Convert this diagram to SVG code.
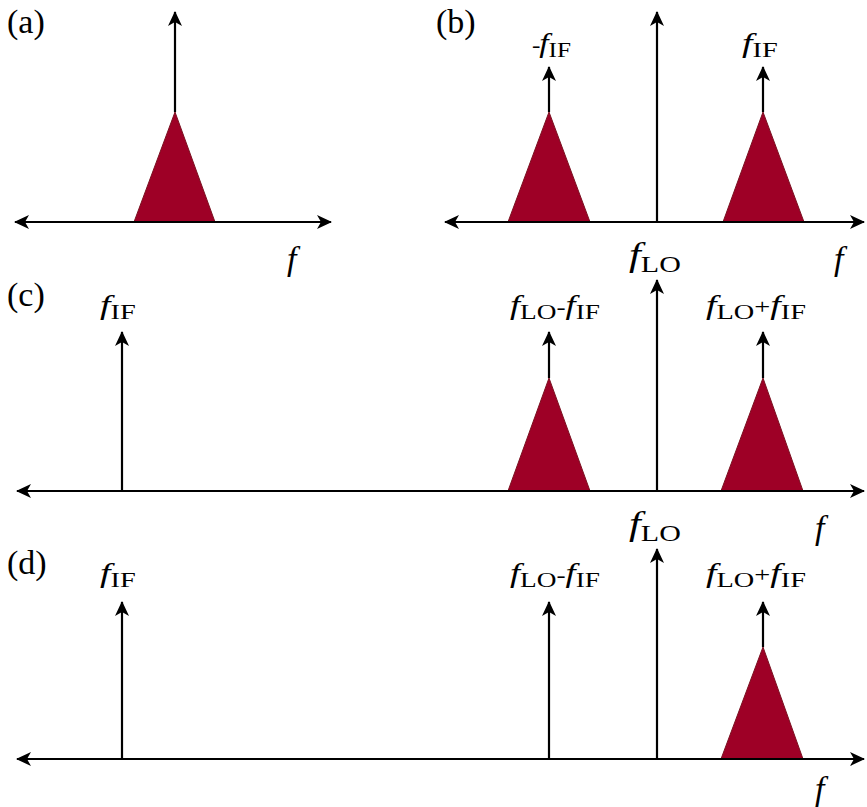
<svg xmlns="http://www.w3.org/2000/svg" width="867" height="807" viewBox="0 0 867 807">
<style>
.ax{stroke:#000;stroke-width:2.2;fill:none}
.tri{fill:#9e0026;stroke:#7a1020;stroke-width:1}
.pl{font-family:"Liberation Serif","Times New Roman",serif;font-size:34px;fill:#000}
.lb{font-family:"Liberation Serif","Times New Roman",serif;font-size:21px;fill:#000}
.lb .i{font-style:italic;font-size:28px}
.big{font-family:"Liberation Serif","Times New Roman",serif;font-size:24px;fill:#000}
.big .i{font-style:italic;font-size:34px}
.fx{font-family:"Liberation Serif","Times New Roman",serif;font-style:italic;font-size:34px;fill:#000}
</style>
<defs>
<marker id="ah" viewBox="-16 -8 18 16" markerWidth="18" markerHeight="16" refX="0" refY="0" orient="auto-start-reverse" markerUnits="userSpaceOnUse">
<path d="M1,0 L-14,-7 L-10,0 L-14,7 Z" fill="#000"/>
</marker>
</defs>
<rect width="867" height="807" fill="#fff"/>

<g id="spectra">
<polygon class="tri" points="134,222 175,112 215,222"/>
<polygon class="tri" points="508,222 549,112 590,222"/>
<polygon class="tri" points="723,222 763,112 804,222"/>
<polygon class="tri" points="508,491 549,378 590,491"/>
<polygon class="tri" points="721,491 763,378 803,491"/>
<polygon class="tri" points="721,759 763,647 803,759"/>
</g>

<g id="connectors">
<line class="ax" x1="15" y1="222" x2="331" y2="222" marker-start="url(#ah)" marker-end="url(#ah)"/>
<line class="ax" x1="175" y1="112" x2="175" y2="12" marker-end="url(#ah)"/>
<line class="ax" x1="445" y1="222" x2="864" y2="222" marker-start="url(#ah)" marker-end="url(#ah)"/>
<line class="ax" x1="657" y1="222" x2="657" y2="12" marker-end="url(#ah)"/>
<line class="ax" x1="549" y1="112" x2="549" y2="67" marker-end="url(#ah)"/>
<line class="ax" x1="763" y1="112" x2="763" y2="67" marker-end="url(#ah)"/>

<line class="ax" x1="17" y1="491" x2="864" y2="491" marker-start="url(#ah)" marker-end="url(#ah)"/>
<line class="ax" x1="122" y1="491" x2="122" y2="332" marker-end="url(#ah)"/>
<line class="ax" x1="657" y1="491" x2="657" y2="280" marker-end="url(#ah)"/>
<line class="ax" x1="549" y1="378" x2="549" y2="332" marker-end="url(#ah)"/>
<line class="ax" x1="763" y1="378" x2="763" y2="332" marker-end="url(#ah)"/>

<line class="ax" x1="17" y1="759" x2="864" y2="759" marker-start="url(#ah)" marker-end="url(#ah)"/>
<line class="ax" x1="122" y1="759" x2="122" y2="602" marker-end="url(#ah)"/>
<line class="ax" x1="549" y1="759" x2="549" y2="602" marker-end="url(#ah)"/>
<line class="ax" x1="657" y1="759" x2="657" y2="549" marker-end="url(#ah)"/>
<line class="ax" x1="763" y1="647" x2="763" y2="602" marker-end="url(#ah)"/>
</g>

<g id="panel-a">
<text class="pl" x="7" y="33">(a)</text>
<text class="fx" x="287" y="270">f</text>
</g>

<g id="panel-b">
<text class="pl" x="436" y="33">(b)</text>
<text class="lb" transform="translate(532,52) scale(1.2,1)"><tspan>-</tspan><tspan class="i" dx="-1">f</tspan><tspan dy="5">IF</tspan></text>
<text class="lb" transform="translate(742,52) scale(1.35,1)"><tspan class="i">f</tspan><tspan dy="5">IF</tspan></text>
<text class="big" transform="translate(629,266) scale(1.25,1)"><tspan class="i">f</tspan><tspan dy="6">LO</tspan></text>
<text class="fx" x="834" y="270">f</text>
</g>

<g id="panel-c">
<text class="pl" x="7" y="306">(c)</text>
<text class="lb" transform="translate(100,314) scale(1.35,1)"><tspan class="i">f</tspan><tspan dy="5">IF</tspan></text>
<text class="lb" transform="translate(510,314) scale(1.3,1)"><tspan class="i">f</tspan><tspan dy="5">LO</tspan><tspan dy="-5">-</tspan><tspan class="i">f</tspan><tspan dy="5">IF</tspan></text>
<text class="lb" transform="translate(706,314) scale(1.35,1)"><tspan class="i">f</tspan><tspan dy="5">LO</tspan><tspan dy="-5">+</tspan><tspan class="i">f</tspan><tspan dy="5">IF</tspan></text>
<text class="big" transform="translate(629,535) scale(1.25,1)"><tspan class="i">f</tspan><tspan dy="6">LO</tspan></text>
<text class="fx" x="815" y="539">f</text>
</g>

<g id="panel-d">
<text class="pl" x="7" y="574">(d)</text>
<text class="lb" transform="translate(100,582) scale(1.35,1)"><tspan class="i">f</tspan><tspan dy="5">IF</tspan></text>
<text class="lb" transform="translate(510,582) scale(1.3,1)"><tspan class="i">f</tspan><tspan dy="5">LO</tspan><tspan dy="-5">-</tspan><tspan class="i">f</tspan><tspan dy="5">IF</tspan></text>
<text class="lb" transform="translate(706,582) scale(1.35,1)"><tspan class="i">f</tspan><tspan dy="5">LO</tspan><tspan dy="-5">+</tspan><tspan class="i">f</tspan><tspan dy="5">IF</tspan></text>
<text class="fx" x="815" y="800">f</text>
</g>
</svg>
